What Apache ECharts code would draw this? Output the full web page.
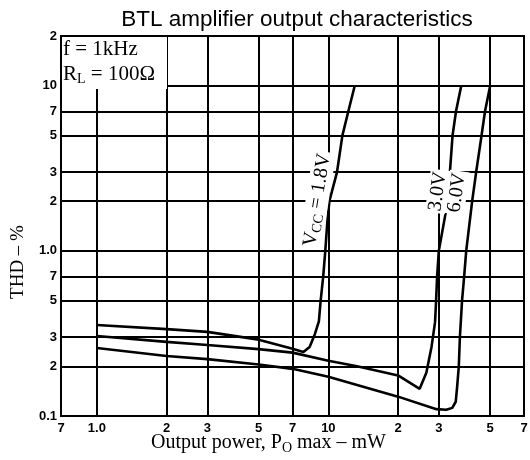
<!DOCTYPE html>
<html>
<head>
<meta charset="utf-8">
<script src="https://cdn.jsdelivr.net/npm/echarts@6/dist/echarts.min.js"></script>
<style>
	html, body { margin: 0; padding: 0; background: #fff; }
	#thdChart { width: 530px; height: 460px; }
</style>
</head>
<body>
<div id="thdChart"></div>
<script>
	// grid positions and the labels printed at them (log-log sheet)
	const xTickValues = [0.7, 1, 2, 3, 5, 7, 10, 20, 30, 50, 70];
	const xTickLabels = ['7', '1.0', '2', '3', '5', '7', '10', '2', '3', '5', '7'];
	const yTickValues = [0.1, 0.2, 0.3, 0.5, 0.7, 1, 2, 3, 5, 7, 10, 20];
	const yTickLabels = ['0.1', '2', '3', '5', '7', '1.0', '2', '3', '5', '7', '10', '2'];

	// output power (mW) and THD (%)
	const vcc18Power = [1, 2, 3, 5, 7, 7.8, 8.3, 8.75, 9.1, 9.25, 9.5, 9.7, 9.9, 10.1, 10.9, 11.5, 12.2, 13.0];
	const vcc18Thd = [0.356, 0.336, 0.323, 0.29, 0.255, 0.244, 0.262, 0.314, 0.374, 0.49, 0.7, 1.0, 1.5, 2, 3, 5, 7, 10];
	const vcc30Power = [1, 2, 3, 5, 7, 10, 13.3, 20, 24.8, 26.5, 27.9, 28.9, 29.2, 29.5, 30, 32.8, 33.5, 34.4, 35.6, 37.5];
	const vcc30Thd = [0.305, 0.281, 0.269, 0.254, 0.242, 0.216, 0.2, 0.176, 0.146, 0.183, 0.262, 0.37, 0.5, 0.7, 1.0, 2, 3, 5, 7, 10];
	const vcc60Power = [1, 2, 3, 5, 7, 10, 20, 29.3, 32.3, 34.3, 35.5, 36, 36.6, 37, 37.8, 38.6, 39.4, 41.8, 43.5, 45.9, 47.5, 50];
	const vcc60Thd = [0.258, 0.231, 0.221, 0.205, 0.193, 0.173, 0.131, 0.11, 0.109, 0.112, 0.122, 0.15, 0.2, 0.3, 0.5, 0.7, 1.0, 2, 3, 5, 7, 10];

	const serif = '"Liberation Serif", "DejaVu Serif", serif';
	const sans = '"Liberation Sans", Arial, sans-serif';

	function pairs(xs, ys) {
		return xs.map((x, i) => [x, ys[i]]);
	}

	function tickText(values, labels) {
		return function(val) {
			for (let i = 0; i < values.length; i++) {
				if (Math.abs(Math.log10(val) - Math.log10(values[i])) < 0.005) return labels[i];
			}
			return '';
		};
	}

	function curve(name, xs, ys) {
		return {
			name: name,
			type: 'line',
			data: pairs(xs, ys),
			showSymbol: false,
			smooth: false,
			lineStyle: { color: '#000', width: 2.6 },
			z: 5
		};
	}

	let myChart = echarts.init(document.getElementById('thdChart'));
	const option = {
		backgroundColor: '#fff',
		animation: false,
		title: {
			text: 'BTL amplifier output characteristics',
			left: 292,
			textAlign: 'center',
			top: 3,
			textStyle: { fontFamily: sans, fontSize: 22.5, fontWeight: 'normal', color: '#000' }
		},
		grid: {
			left: 61, right: 6, top: 36, bottom: 44,
			outerBoundsMode: 'none',
			show: true, borderColor: '#000', borderWidth: 2
		},
		xAxis: {
			type: 'log',
			logBase: 10,
			min: 0.7,
			max: 70,
			name: 'Output power, P{sub|O} max – mW',
			nameLocation: 'middle',
			nameMoveOverlap: false,
			nameGap: 15,
			nameTextStyle: {
				fontFamily: serif, fontSize: 20, color: '#000', padding: [0, 48, 0, 0],
				rich: { sub: { fontFamily: serif, fontSize: 14, color: '#000', padding: [10, 0, 0, 0] } }
			},
			axisLine: { lineStyle: { color: '#000', width: 2 } },
			axisTick: { show: false, customValues: xTickValues },
			axisLabel: {
				customValues: xTickValues,
				formatter: tickText(xTickValues, xTickLabels),
				fontFamily: sans, fontWeight: 'bold', fontSize: 13, color: '#000', margin: 6,
				showMinLabel: true, showMaxLabel: true
			},
			splitLine: { show: true, lineStyle: { color: '#000', width: 2 } },
			minorSplitLine: { show: false }
		},
		yAxis: {
			type: 'log',
			logBase: 10,
			min: 0.1,
			max: 20,
			name: 'THD – %',
			nameLocation: 'middle',
			nameGap: 33,
			nameTextStyle: { fontFamily: serif, fontSize: 19, color: '#000', padding: [0, 72, 0, 0] },
			axisLine: { lineStyle: { color: '#000', width: 2 } },
			axisTick: { show: false, customValues: yTickValues },
			axisLabel: {
				customValues: yTickValues,
				formatter: tickText(yTickValues, yTickLabels),
				fontFamily: sans, fontWeight: 'bold', fontSize: 13, color: '#000', margin: 4,
				showMinLabel: true, showMaxLabel: true
			},
			splitLine: { show: true, lineStyle: { color: '#000', width: 2 } }
		},
		series: [
			curve('1.8V', vcc18Power, vcc18Thd),
			curve('3.0V', vcc30Power, vcc30Thd),
			curve('6.0V', vcc60Power, vcc60Thd)
		]
	};
	myChart.setOption(option);

	// annotations placed from data coordinates
	function at(x, y) {
		return myChart.convertToPixel({ gridIndex: 0 }, [x, y]);
	}
	const corner = at(0.7, 20);
	const label18 = at(8.95, 2.03);
	const label30 = at(29.7, 2.29);
	const label60 = at(35.9, 2.25);
	const deg = Math.PI / 180;

	function curveLabel(pos, rot, text) {
		return {
			type: 'text',
			x: pos[0],
			y: pos[1],
			rotation: rot * deg,
			z: 50,
			style: {
				text: text,
				align: 'center',
				verticalAlign: 'middle',
				fill: '#000',
				fontFamily: serif,
				fontSize: 20,
				backgroundColor: '#fff',
				padding: [0, 2],
				rich: {
					m: { fontFamily: serif, fontSize: 20, fill: '#000' },
					sub: { fontFamily: serif, fontSize: 14, fill: '#000', padding: [9, 0, 0, 0] }
				}
			}
		};
	}

	myChart.setOption({
		graphic: [
			{
				type: 'rect',
				x: corner[0] + 1,
				y: corner[1] + 1,
				z: 40,
				shape: { width: 105, height: 52 },
				style: { fill: '#fff' }
			},
			{
				type: 'text',
				x: corner[0] + 2,
				y: corner[1] + 1,
				z: 50,
				style: {
					text: '{m|f = 1kHz}\n{m|R}{sub|L}{m| = 100Ω}',
					fill: '#000',
					lineHeight: 25,
					rich: {
						m: { fontFamily: serif, fontSize: 21, fill: '#000', lineHeight: 25 },
						sub: { fontFamily: serif, fontSize: 14, fill: '#000', padding: [10, 0, 0, 0], lineHeight: 25 }
					}
				}
			},
			curveLabel(label18, 81, '{m|V}{sub|CC}{m| = 1.8V}'),
			curveLabel(label30, 82, '{m|3.0V}'),
			curveLabel(label60, 82, '{m|6.0V}')
		]
	});
</script>
</body>
</html>
